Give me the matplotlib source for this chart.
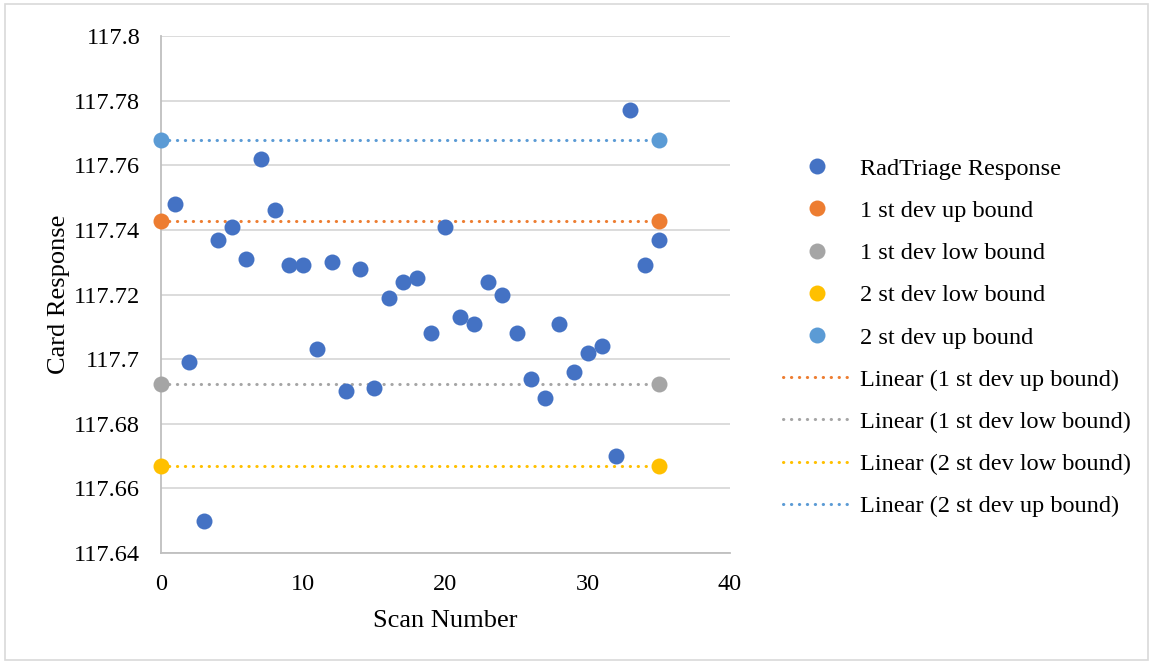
import numpy as np
import matplotlib.pyplot as plt
from matplotlib.patches import Rectangle
from matplotlib.lines import Line2D

plt.rcParams['font.family'] = ['Liberation Serif', 'DejaVu Serif']

# RadTriage card readings, scans 1..35
scan = list(range(1, 36))
response = [117.748, 117.699, 117.650, 117.737, 117.741, 117.731, 117.762,
            117.746, 117.729, 117.729, 117.703, 117.730, 117.690, 117.728,
            117.691, 117.719, 117.724, 117.725, 117.708, 117.741, 117.713,
            117.711, 117.724, 117.720, 117.708, 117.694, 117.688, 117.711,
            117.696, 117.702, 117.704, 117.670, 117.777, 117.729, 117.737]

# bounds drawn at the first and last scan
bound_x = [0, 35]
sd1_up = [117.7428, 117.7428]
sd1_low = [117.6923, 117.6923]
sd2_low = [117.6670, 117.6670]
sd2_up = [117.7678, 117.7678]

names = ['1 st dev up bound', '1 st dev low bound',
         '2 st dev low bound', '2 st dev up bound']
colors = ['#ED7D31', '#A5A5A5', '#FFC000', '#5B9BD5']
bounds = [sd1_up, sd1_low, sd2_low, sd2_up]

fig = plt.figure(figsize=(11.51, 6.63), dpi=100)
fig.patches.append(Rectangle((5 / 1151, 3 / 663), 1143 / 1151, 656 / 663,
                             transform=fig.transFigure, fill=False,
                             edgecolor='#D9D9D9', linewidth=1.2))
ax = fig.add_axes([0.1399, 0.1659, 0.4943, 0.7798])

dot = (0, (0.1, 2.5))
lw = 2.2
ms = 11.5
for yv, c in zip(bounds, colors):
    ax.plot(bound_x, yv, color=c, linewidth=lw, linestyle=dot,
            dash_capstyle='round', zorder=2, clip_on=False)

ax.plot(scan, response, 'o', color='#4472C4', markersize=ms,
        markeredgewidth=0, zorder=3, clip_on=False)
for yv, c in zip(bounds, colors):
    ax.plot(bound_x, yv, 'o', color=c, markersize=ms,
            markeredgewidth=0, zorder=3, clip_on=False)

ax.set_xlim(0, 40)
ax.set_ylim(117.64, 117.8)
ax.set_xticks([0, 10, 20, 30, 40])
ax.set_yticks(np.arange(117.64, 117.8001, 0.02))
ax.yaxis.set_major_formatter(plt.FuncFormatter(lambda v, p: '{:g}'.format(round(v, 2))))
ax.tick_params(length=0, labelsize=17.5, colors='black')
ax.tick_params(axis='y', pad=15)
ax.tick_params(axis='x', pad=15)
ax.grid(axis='y', color='#D9D9D9', linewidth=1.3)
ax.set_axisbelow(True)
for s in ['top', 'right']:
    ax.spines[s].set_visible(False)
for s in ['left', 'bottom']:
    ax.spines[s].set_color('#BFBFBF')
    ax.spines[s].set_linewidth(1.3)
ax.set_xlabel('Scan Number', fontsize=19, labelpad=11)
ax.set_ylabel('Card Response', fontsize=19, labelpad=3)

handles = [Line2D([], [], marker='o', linestyle='none', color='#4472C4',
                  markersize=ms, markeredgewidth=0)]
labels = ['RadTriage Response']
for n, c in zip(names, colors):
    handles.append(Line2D([], [], marker='o', linestyle='none', color=c,
                          markersize=ms, markeredgewidth=0))
    labels.append(n)
for n, c in zip(names, colors):
    handles.append(Line2D([], [], color=c, linewidth=lw, linestyle=dot,
                          dash_capstyle='round'))
    labels.append('Linear (' + n + ')')

fig.legend(handles, labels, loc='upper left', bbox_to_anchor=(0.661, 0.795),
           frameon=False, fontsize=17.5, handlelength=2.8, handletextpad=0.37,
           labelspacing=0.83)

fig.savefig('out.png', dpi=100)
